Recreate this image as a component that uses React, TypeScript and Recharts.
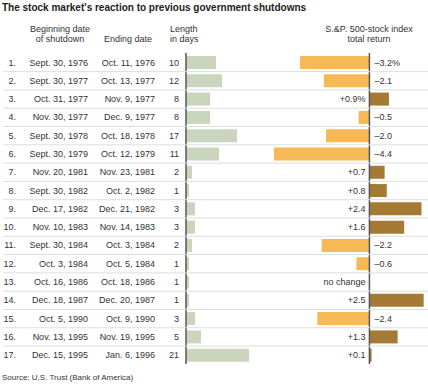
import React from 'react';
import { ComposedChart, Bar, Cell, XAxis, YAxis, ReferenceLine, LabelList } from 'recharts';

// rows of the table
const rowNums = [1, 2, 3, 4, 5, 6, 7, 8, 9, 10, 11, 12, 13, 14, 15, 16, 17];
const beginDates = [
  'Sept. 30, 1976', 'Sept. 30, 1977', 'Oct. 31, 1977', 'Nov. 30, 1977', 'Sept. 30, 1978',
  'Sept. 30, 1979', 'Nov. 20, 1981', 'Sept. 30, 1982', 'Dec. 17, 1982', 'Nov. 10, 1983',
  'Sept. 30, 1984', 'Oct. 3, 1984', 'Oct. 16, 1986', 'Dec. 18, 1987', 'Oct. 5, 1990',
  'Nov. 13, 1995', 'Dec. 15, 1995',
];
const endDates = [
  'Oct. 11, 1976', 'Oct. 13, 1977', 'Nov. 9, 1977', 'Dec. 9, 1977', 'Oct. 18, 1978',
  'Oct. 12, 1979', 'Nov. 23, 1981', 'Oct. 2, 1982', 'Dec. 21, 1982', 'Nov. 14, 1983',
  'Oct. 3, 1984', 'Oct. 5, 1984', 'Oct. 18, 1986', 'Dec. 20, 1987', 'Oct. 9, 1990',
  'Nov. 19, 1995', 'Jan. 6, 1996',
];
const lengthDays = [10, 12, 8, 8, 17, 11, 2, 1, 3, 3, 2, 1, 1, 1, 3, 5, 21];
const totalReturns = [-3.2, -2.1, 0.9, -0.5, -2.0, -4.4, 0.7, 0.8, 2.4, 1.6, -2.2, -0.6, 0, 2.5, -2.4, 1.3, 0.1];
const returnLabels = [
  '–3.2%', '–2.1', '+0.9%', '–0.5', '–2.0', '–4.4', '+0.7', '+0.8', '+2.4', '+1.6',
  '–2.2', '–0.6', 'no change', '+2.5', '–2.4', '+1.3', '+0.1',
];

const data = rowNums.map((n, i) => ({
  n,
  len: lengthDays[i],
  ret: totalReturns[i],
  label: returnLabels[i],
}));

const W = 428;
const H = 387;
const MT = 53;
const MB = 23;
const rowH = (H - MT - MB) / rowNums.length;

const FONT = '"Liberation Sans", Arial, Helvetica, sans-serif';
const TXT = '#333';
const GREEN = '#c9d6bd';
const ORANGE = '#f7b955';
const BROWN = '#a47a35';

// draws the text columns of each row, hung on the length bar of that row
const RowText = (props: any) => {
  const vb = props.viewBox || props;
  const { y, height } = vb;
  const i = rowNums.indexOf(Number(props.value));
  if (i < 0) return null;
  const cy = y + height / 2;
  const last = i === rowNums.length - 1;
  return (
    <g fontFamily={FONT} fontSize={9} fill={TXT}>
      {!last && (
        <line x1={3} x2={W} y1={cy + rowH / 2} y2={cy + rowH / 2} stroke="#dedede" strokeWidth={1} />
      )}
      <text x={16} y={cy} textAnchor="end" dominantBaseline="central">{rowNums[i]}.</text>
      <text x={88} y={cy} textAnchor="end" dominantBaseline="central">{beginDates[i]}</text>
      <text x={155} y={cy} textAnchor="end" dominantBaseline="central">{endDates[i]}</text>
      <text x={179} y={cy} textAnchor="end" dominantBaseline="central">{lengthDays[i]}</text>
    </g>
  );
};

const ReturnLabel = (props: any) => {
  const vb = props.viewBox || props;
  const { x, y, width, height } = vb;
  const value = String(props.value);
  const left = Math.min(x, x + width);
  const right = Math.max(x, x + width);
  const neg = value.startsWith('–');
  return (
    <text
      x={neg ? right + 5 : left - 4}
      y={y + height / 2}
      textAnchor={neg ? 'start' : 'end'}
      dominantBaseline="central"
      fontFamily={FONT}
      fontSize={9}
      fill={TXT}
    >
      {value}
    </text>
  );
};

const hdr: React.CSSProperties = {
  position: 'absolute',
  fontFamily: FONT,
  fontSize: 9,
  lineHeight: '10px',
  color: TXT,
  textAlign: 'center',
  whiteSpace: 'nowrap',
};

export default function App() {
  return (
    <div style={{ position: 'absolute', left: 0, top: 0, width: W, height: H, background: '#fff' }}>
      <div style={{ position: 'absolute', left: 2, top: 2, fontFamily: FONT, fontSize: 10, lineHeight: '12px', fontWeight: 'bold', color: '#222', whiteSpace: 'nowrap' }}>
        The stock market's reaction to previous government shutdowns
      </div>
      <div style={{ ...hdr, left: 20, width: 80, top: 24 }}>Beginning date<br />of shutdown</div>
      <div style={{ ...hdr, left: 98, width: 60, top: 34 }}>Ending date</div>
      <div style={{ ...hdr, left: 170, top: 24, textAlign: 'left' }}>Length<br />in days</div>
      <div style={{ ...hdr, left: 309, width: 120, top: 24 }}>S.&amp;P. 500-stock index<br />total return</div>
      <div style={{ position: 'absolute', left: 2, top: 373, fontFamily: FONT, fontSize: 8, lineHeight: '10px', color: TXT, whiteSpace: 'nowrap' }}>
        Source: U.S. Trust (Bank of America)
      </div>

      <ComposedChart
        width={W}
        height={H}
        data={data}
        layout="vertical"
        margin={{ top: MT, right: 0, bottom: MB, left: 0 }}
      >
        <XAxis xAxisId="len" type="number" domain={[-62, 80.67]} hide allowDataOverflow />
        <XAxis xAxisId="sp" type="number" domain={[-17.03, 2.7]} hide allowDataOverflow />
        <YAxis yAxisId="a" type="category" dataKey="n" hide width={0} />
        <YAxis yAxisId="b" type="category" dataKey="n" hide width={0} />
        <Bar xAxisId="len" yAxisId="a" dataKey="len" fill={GREEN} barSize={13} isAnimationActive={false}>
          <LabelList dataKey="n" content={<RowText />} />
        </Bar>
        <Bar xAxisId="sp" yAxisId="b" dataKey="ret" barSize={13} minPointSize={1} isAnimationActive={false}>
          {data.map((d, i) => (
            <Cell key={`c-${i}`} fill={d.ret < 0 ? ORANGE : d.ret > 0 ? BROWN : 'transparent'} />
          ))}
          <LabelList dataKey="label" content={<ReturnLabel />} />
        </Bar>
        <ReferenceLine xAxisId="len" yAxisId="a" x={0} stroke="#555" strokeWidth={1.5} />
        <ReferenceLine xAxisId="sp" yAxisId="b" x={0} stroke="#555" strokeWidth={1.5} />
      </ComposedChart>
    </div>
  );
}
